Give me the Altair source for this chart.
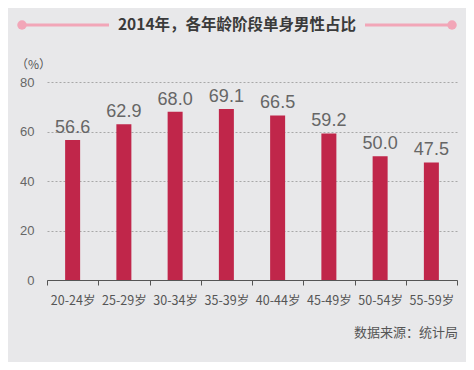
import altair as alt
import pandas as pd

categories = ["20-24岁", "25-29岁", "30-34岁", "35-39岁", "40-44岁", "45-49岁", "50-54岁", "55-59岁"]
values = [56.6, 62.9, 68.0, 69.1, 66.5, 59.2, 50.0, 47.5]
y_ticks = [0, 20, 40, 60, 80]
title_text = "2014年，各年龄阶段单身男性占比"
unit_text = "（%）"
source_text = "数据来源：统计局"

FONT = "Noto Sans CJK SC"
NUMFONT = "Liberation Sans"
W, H = 410, 198

df = pd.DataFrame({"cat": categories, "val": values})

x = alt.X("cat:N", sort=categories, title=None,
          scale=alt.Scale(paddingInner=0, paddingOuter=0),
          axis=alt.Axis(labelAngle=0, labelFont=FONT, labelFontSize=12.5, labelColor="#555555",
                        labelPadding=9, tickBand="extent", tickSize=5, tickColor="#555555",
                        domainColor="#555555", grid=False))
y = alt.Y("val:Q", title=None,
          scale=alt.Scale(domain=[0, 80]),
          axis=alt.Axis(values=y_ticks, labelFont=NUMFONT, labelFontSize=13, labelColor="#666666",
                        labelPadding=13, ticks=False, domain=False, grid=True,
                        gridColor="#a8a8a8", gridDash=[2, 2], gridWidth=1))

base = alt.Chart(df)
bars = base.mark_bar(size=15, color="#c0264a").encode(x=x, y=y)
labels = base.mark_text(baseline="bottom", dy=-3, font=NUMFONT, fontSize=18, color="#666666").encode(
    x=alt.X("cat:N", sort=categories), y="val:Q", text=alt.Text("val:Q", format=".1f"))

deco_df = pd.DataFrame({"k": [0]})
deco = alt.Chart(deco_df)
line_left = deco.mark_rule(color="#f2a6b8", strokeWidth=3).encode(
    x=alt.value(-25), x2=alt.value(62), y=alt.value(-57))
line_right = deco.mark_rule(color="#f2a6b8", strokeWidth=3).encode(
    x=alt.value(318), x2=alt.value(405), y=alt.value(-57))
dot_left = deco.mark_circle(color="#f2a6b8", opacity=1, size=90).encode(
    x=alt.value(-25), y=alt.value(-57))
dot_right = deco.mark_circle(color="#f2a6b8", opacity=1, size=90).encode(
    x=alt.value(405), y=alt.value(-57))
title = deco.mark_text(font=FONT, fontSize=15.5, fontWeight="bold", color="#3a3a3a").encode(
    x=alt.value(190), y=alt.value(-57), text=alt.value(title_text))
unit = deco.mark_text(font=FONT, fontSize=12, color="#555555", align="left").encode(
    x=alt.value(-31), y=alt.value(-17), text=alt.value(unit_text))
source = deco.mark_text(font=FONT, fontSize=13, color="#555555", align="right").encode(
    x=alt.value(411), y=alt.value(251), text=alt.value(source_text))

chart = alt.layer(bars, labels, line_left, line_right, dot_left, dot_right, title, unit, source).properties(
    width=W, height=H,
    autosize=alt.AutoSizeParams(type="none"),
    padding={"left": 39, "top": 74, "right": 9, "bottom": 82},
    background="#e8e8ea",
).configure_view(stroke=None)

chart.save("out.html", embed_options={"renderer": "svg", "actions": False})
